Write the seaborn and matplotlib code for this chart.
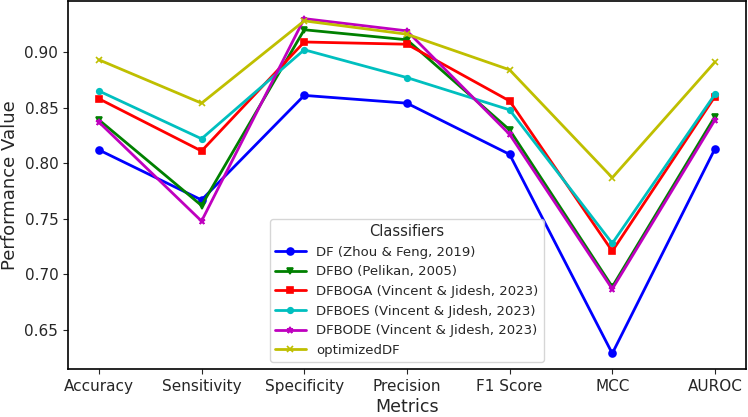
import pandas as pd
import matplotlib
matplotlib.use("Agg")
import matplotlib.pyplot as plt
import seaborn as sns

# metrics on the x axis
metrics = ['Accuracy', 'Sensitivity', 'Specificity', 'Precision', 'F1 Score', 'MCC', 'AUROC']

# classifier names (legend order)
classifiers = [
    'DF (Zhou & Feng, 2019)',
    'DFBO (Pelikan, 2005)',
    'DFBOGA (Vincent & Jidesh, 2023)',
    'DFBOES (Vincent & Jidesh, 2023)',
    'DFBODE (Vincent & Jidesh, 2023)',
    'optimizedDF',
]

# values
df_vals = [0.812, 0.767, 0.861, 0.854, 0.808, 0.629, 0.813]
dfbo_vals = [0.839, 0.762, 0.920, 0.911, 0.830, 0.689, 0.842]
dfboga_vals = [0.858, 0.811, 0.909, 0.907, 0.856, 0.721, 0.860]
dfboes_vals = [0.865, 0.822, 0.902, 0.877, 0.848, 0.728, 0.862]
dfbode_vals = [0.837, 0.748, 0.930, 0.919, 0.826, 0.687, 0.839]
optdf_vals = [0.893, 0.854, 0.928, 0.916, 0.884, 0.787, 0.891]

all_vals = [df_vals, dfbo_vals, dfboga_vals, dfboes_vals, dfbode_vals, optdf_vals]

colors = ['b', 'g', 'r', 'c', 'm', 'y']
markers = ['o', 'v', 's', 'o', '*', 'x']
msizes = [5, 5, 5, 4, 4.5, 5]

sns.set_style("ticks")
plt.rcParams['font.family'] = ['DejaVu Sans']

fig, ax = plt.subplots(figsize=(7.48, 4.17), dpi=100)

# one line per classifier (filled and line markers can't share one style mapping)
for name, vals, col, mk, ms in zip(classifiers, all_vals, colors, markers, msizes):
    part = pd.DataFrame({'Metric': metrics, 'Value': vals})
    sns.lineplot(
        data=part, x='Metric', y='Value', sort=False,
        color=col, marker=mk, linewidth=2, markersize=ms,
        markeredgecolor=col, markeredgewidth=1.2,
        label=name, ax=ax,
    )

ax.set_xlabel('Metrics', fontsize=12.5, labelpad=3)
ax.set_ylabel('Performance Value', fontsize=13, labelpad=4)
ax.tick_params(axis='both', labelsize=11)
ax.set_yticks([0.65, 0.70, 0.75, 0.80, 0.85, 0.90])
ax.set_ylim(0.615, 0.946)
for sp in ax.spines.values():
    sp.set_color('black')
    sp.set_linewidth(1.2)

ax.legend(title='Classifiers', fontsize=9.5, title_fontsize=10.5,
          loc='lower left', bbox_to_anchor=(0.298, 0.019), borderaxespad=0,
          handlelength=2.3, framealpha=0.8)

plt.subplots_adjust(left=0.091, right=0.997, top=0.998, bottom=0.115)
plt.savefig('out.png', dpi=100)
